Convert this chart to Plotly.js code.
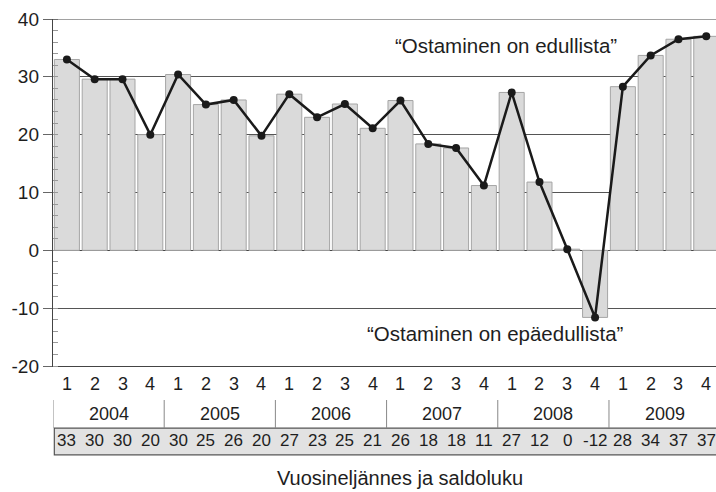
<!DOCTYPE html>
<html>
<head>
<meta charset="utf-8">
<script src="https://cdn.plot.ly/plotly-3.0.1.min.js"></script>
<style>
  body { margin: 0; background: #fff; }
  #chart { width: 716px; height: 492px; }
</style>
</head>
<body>
<div id="chart"></div>
<script>
// quarters 2004..2009
var quarters = ['1', '2', '3', '4', '1', '2', '3', '4', '1', '2', '3', '4',
                '1', '2', '3', '4', '1', '2', '3', '4', '1', '2', '3', '4'];
var years = ['2004', '2005', '2006', '2007', '2008', '2009'];
// balance figures (line + bars)
var saldo = [33, 29.6, 29.6, 20, 30.4, 25.2, 26, 19.8, 27, 23, 25.3, 21.1,
             25.9, 18.4, 17.7, 11.2, 27.3, 11.8, 0.2, -11.6, 28.3, 33.7, 36.5, 37];
// rounded numbers in the table row
var saldoLabels = ['33', '30', '30', '20', '30', '25', '26', '20', '27', '23', '25', '21',
                   '26', '18', '18', '11', '27', '12', '0', '-12', '28', '34', '37', '37'];
var yTickVals = [-20, -10, 0, 10, 20, 30, 40];
var yTickText = ['-20', '-10', '0', '10', '20', '30', '40'];

var xs = quarters.map((q, i) => i);

var sans = 'Liberation Sans, Arial, Helvetica, sans-serif';
var ink = '#1e1e1e';

var bars = {
  x: xs,
  y: saldo,
  type: 'bar',
  marker: { color: '#dadada', line: { color: '#a5a5a5', width: 1 } },
  hoverinfo: 'skip'
};

var line = {
  x: xs,
  y: saldo,
  type: 'scatter',
  mode: 'lines+markers',
  line: { color: '#1a1a1a', width: 2.5 },
  marker: { color: '#1a1a1a', size: 8 }
};

var annotations = [];
var shapes = [];

function label(x, y, text, size, xref) {
  return { x: x, y: y, xref: xref || 'x', yref: 'paper', text: text, showarrow: false,
    xanchor: 'center', yanchor: 'middle', font: { family: sans, size: size, color: ink } };
}

quarters.forEach((q, i) => {
  annotations.push(label(i, -0.052, q, 18));
  annotations.push(label(i, -0.216, saldoLabels[i], 17));
});

years.forEach((yr, j) => {
  annotations.push(label(j * 4 + 1.5, -0.138, yr, 18));
  shapes.push({ type: 'line', xref: 'x', yref: 'paper', x0: j * 4 - 0.5, x1: j * 4 - 0.5,
    y0: -0.098, y1: -0.179, line: { color: '#888', width: 1 } });
});

// table box
shapes.push({ type: 'rect', xref: 'paper', yref: 'paper', x0: 0.002, x1: 1.01, y0: -0.179, y1: -0.256,
  fillcolor: '#e2e2e2', line: { color: '#555', width: 1.2 }, layer: 'below' });
// top frame line
shapes.push({ type: 'line', xref: 'paper', yref: 'y', x0: 0, x1: 1, y0: 40, y1: 40,
  line: { color: '#444', width: 1.2 } });

annotations.push(label(0.683, 0.925, '“Ostaminen on edullista”', 20.5, 'paper'));
annotations.push(label(0.668, 0.095, '“Ostaminen on epäedullista”', 20.5, 'paper'));
annotations.push(label(0.523, -0.323, 'Vuosineljännes ja saldoluku', 20, 'paper'));

var layout = {
  width: 716,
  height: 492,
  margin: { l: 53, r: 0, t: 19, b: 126 },
  showlegend: false,
  bargap: 0.1,
  plot_bgcolor: '#fff',
  paper_bgcolor: '#fff',
  xaxis: {
    range: [-0.5, 23.35],
    showticklabels: false,
    showgrid: false,
    zeroline: false,
    showline: true,
    linecolor: '#444',
    linewidth: 1.2,
    ticks: ''
  },
  yaxis: {
    range: [-20, 40],
    tickmode: 'array',
    tickvals: yTickVals,
    ticktext: yTickText,
    ticks: 'outside',
    ticklen: 9,
    tickcolor: '#666',
    showline: true,
    linecolor: '#444',
    linewidth: 1.2,
    gridcolor: '#555',
    gridwidth: 1,
    zeroline: true,
    zerolinecolor: '#444',
    zerolinewidth: 1.2,
    tickfont: { family: sans, size: 19, color: ink },
    minor: { dtick: 2, tick0: 0, ticks: 'inside', ticklen: 5, tickcolor: '#999', showgrid: false }
  },
  annotations: annotations,
  shapes: shapes
};

Plotly.newPlot('chart', [bars, line], layout, { displayModeBar: false, staticPlot: true });
</script>
</body>
</html>
